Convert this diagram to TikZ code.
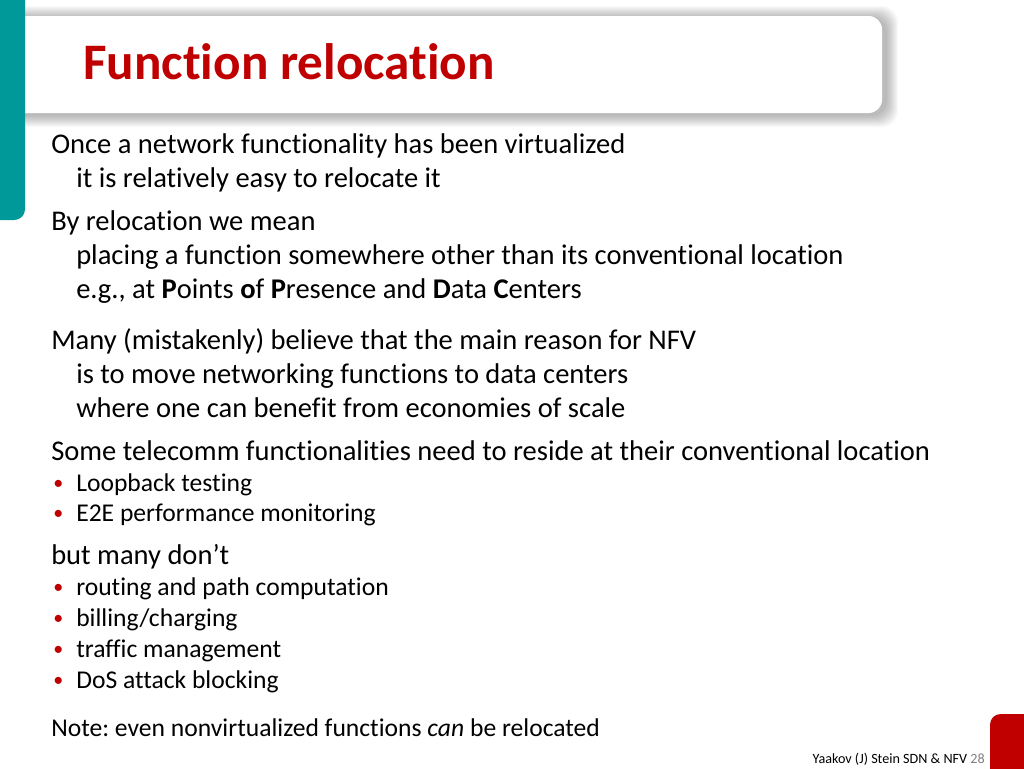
\documentclass[tikz,border=0pt]{standalone}
\usepackage{fontspec}
\setmainfont{Carlito}[Ligatures=NoCommon]
\usepackage{xcolor}
\definecolor{slidered}{RGB}{192,0,0}
\definecolor{slideteal}{RGB}{0,153,153}
\definecolor{pagegray}{RGB}{128,128,128}
\frenchspacing

\begin{document}
\begin{tikzpicture}[x=0.75pt,y=-0.75pt,
  txt/.style={anchor=base west,inner sep=0pt,font=\fontsize{21.4}{25}\selectfont},
  small/.style={anchor=base west,inner sep=0pt,font=\fontsize{19.2}{23}\selectfont},
  dot/.style={anchor=base west,inner sep=0pt,text=slidered,font=\fontsize{15}{18}\selectfont}]
  \useasboundingbox[fill=white] (0,0) rectangle (1024,768);

  % title box with soft shadow, side bar
  \foreach \s in {1,...,12}
    \fill[black,opacity=0.022,rounded corners=12pt] (12-\s,18-\s) rectangle (886+\s,115+\s);
  \fill[white,rounded corners=10pt] (8,16) rectangle (882,113);
  \begin{scope}
    \clip (0,0) rectangle (1024,768);
    \fill[slideteal,rounded corners=8pt] (-20,-20) rectangle (25,220);
    \fill[slidered,rounded corners=8pt] (990,714) rectangle (1044,790);
  \end{scope}
  \node[anchor=base west,inner sep=0pt,text=slidered,font=\fontsize{38.4}{44}\bfseries] (title) at (83,79) {Function relocation};

  \node[txt] (once) at (51,153) {Once a network functionality has been virtualized};
  \node[txt] (easy) at (76,187) {it is relatively easy to relocate it};
  \node[txt] (by) at (51,230) {By relocation we mean};
  \node[txt] (placing) at (76,264) {placing a function somewhere other than its conventional location};
  \node[txt] (eg) at (76,298) {e.g., at \textbf{P}oints \textbf{o}f \textbf{P}resence and \textbf{D}ata \textbf{C}enters};

  \node[txt] (many) at (51,349) {Many (mistakenly) believe that the main reason for NFV};
  \node[txt] (move) at (76,383) {is to move networking functions to data centers};
  \node[txt] (scale) at (76,417) {where one can benefit from economies of scale};
  \node[txt] (some) at (51,460) {Some telecomm functionalities need to reside at their conventional location};
  \node[dot] (d1) at (53,489) {\textbullet};
  \node[small] (loop) at (76,491) {Loopback testing};
  \node[dot] (d2) at (53,519) {\textbullet};
  \node[small] (e2e) at (76,521) {E2E performance monitoring};

  \node[txt] (but) at (51,564) {but many don’t};
  \node[dot] (d3) at (53,593) {\textbullet};
  \node[small] (route) at (76,595) {routing and path computation};
  \node[dot] (d4) at (53,624) {\textbullet};
  \node[small] (bill) at (76,626) {billing/charging};
  \node[dot] (d5) at (53,655) {\textbullet};
  \node[small] (traffic) at (76,657) {traffic management};
  \node[dot] (d6) at (53,686) {\textbullet};
  \node[small] (dos) at (76,688) {DoS attack blocking};

  \node[small] (note) at (51,736) {Note: even nonvirtualized functions \emph{can} be relocated};

  \node[anchor=base east,inner sep=0pt,font=\fontsize{10.6}{12}\selectfont] (foot) at (985,763) {Yaakov (J) Stein SDN \& NFV \textcolor{pagegray}{28}};
\end{tikzpicture}
\end{document}
